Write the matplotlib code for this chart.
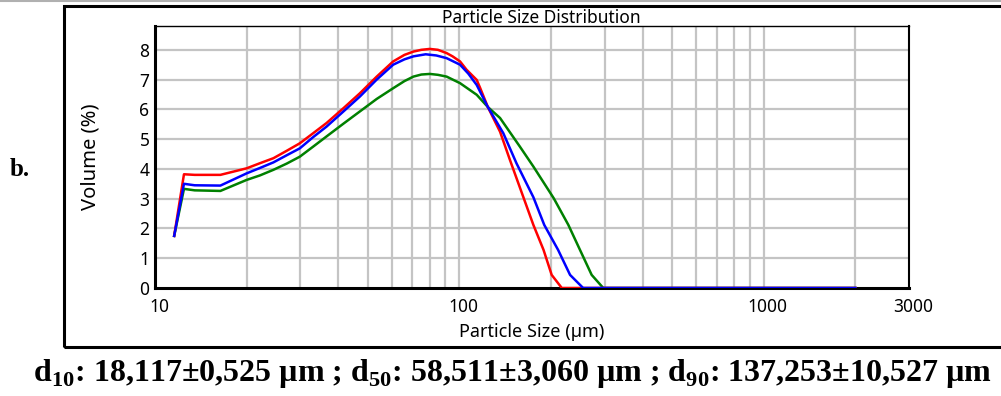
import matplotlib
matplotlib.use("Agg")
from matplotlib import pyplot as plt
from matplotlib.lines import Line2D
from matplotlib.patches import Rectangle
from matplotlib.transforms import ScaledTranslation

# valores (tamano en um, volumen en %)
tam_rojo = [11.56, 12.45, 13.5, 16.4, 20, 22.1, 24.5, 27.1, 29.9, 33.1, 36.6, 41.6,
            47.1, 53.5, 60.6, 66, 70.6, 75, 80, 85, 90.8, 95, 100.5, 105.6, 114, 117,
            124, 136, 146.6, 162, 175, 189, 201, 217, 2000]
vol_rojo = [1.75, 3.82, 3.80, 3.80, 4.02, 4.19, 4.36, 4.61, 4.86, 5.20, 5.54, 6.04,
            6.54, 7.10, 7.61, 7.83, 7.94, 8.00, 8.03, 8.00, 7.89, 7.78, 7.61, 7.33,
            6.99, 6.72, 6.08, 5.25, 4.30, 3.07, 2.12, 1.28, 0.44, 0.0, 0.0]

tam_azul = [11.56, 12.45, 13.5, 16.4, 20, 22.1, 24.5, 27.1, 29.9, 33.1, 36.6, 41.6,
            47.1, 53.5, 60.6, 66, 70.6, 77.5, 84, 90.8, 100.5, 107, 114, 124, 139.4,
            154, 175, 190, 211, 231, 255, 2000]
vol_azul = [1.75, 3.50, 3.45, 3.44, 3.85, 4.03, 4.22, 4.46, 4.69, 5.07, 5.42, 5.93,
            6.43, 7.00, 7.50, 7.68, 7.78, 7.85, 7.81, 7.72, 7.50, 7.20, 6.82, 6.08,
            5.20, 4.19, 3.05, 2.12, 1.28, 0.44, 0.0, 0.0]

tam_verde = [11.56, 12.45, 13.5, 16.4, 20, 22.1, 24.5, 27.1, 29.9, 33.1, 36.6, 41.6,
             47.1, 53.5, 60.6, 66, 70.6, 75, 80, 85, 90.8, 100.5, 114, 124, 136, 158,
             175, 204, 228, 249, 272, 297, 2000]
vol_verde = [1.75, 3.33, 3.28, 3.26, 3.63, 3.78, 3.97, 4.18, 4.41, 4.75, 5.09, 5.52,
             5.93, 6.35, 6.71, 6.95, 7.10, 7.17, 7.19, 7.16, 7.10, 6.88, 6.49, 6.08,
             5.71, 4.75, 4.08, 3.02, 2.12, 1.28, 0.44, 0.0, 0.0]

ticks_x = [10, 100, 1000, 3000]
etiquetas_x = ["10", "100", "1000", "3000"]
rejilla_x = [20, 30, 40, 50, 60, 70, 80, 90, 100, 200, 300, 400, 500, 600, 700,
             800, 900, 1000, 2000]
ticks_y = [0, 1, 2, 3, 4, 5, 6, 7, 8]

texto_pie = (r"d$_{10}$: 18,117±0,525 µm ; d$_{50}$: 58,511±3,060 µm ; "
             r"d$_{90}$: 137,253±10,527 µm")

plt.rcParams["font.family"] = ["Noto Sans", "DejaVu Sans"]
plt.rcParams["mathtext.fontset"] = "custom"
plt.rcParams["mathtext.rm"] = "Liberation Serif:bold"
plt.rcParams["mathtext.bf"] = "Liberation Serif:bold"

fig = plt.figure(figsize=(10.01, 3.96), dpi=100)
ax = fig.add_axes([155 / 1001, 1 - 288 / 396, 754 / 1001, 262 / 396])

gris = "#c4c4c4"
for x in rejilla_x:
    ax.axvline(x, color=gris, lw=1.6, zorder=1)
for y in ticks_y[1:]:
    ax.axhline(y, color=gris, lw=1.6, zorder=1)

ax.plot(tam_verde, vol_verde, color="#008000", lw=1.8, zorder=3)
ax.plot(tam_rojo, vol_rojo, color="#ff0000", lw=1.8, zorder=4)
ax.plot(tam_azul, vol_azul, color="#0000ff", lw=1.8, zorder=5)

ax.set_xscale("log")
ax.set_xlim(10, 3000)
ax.set_ylim(0, 8.8)
ax.set_xticks(ticks_x)
ax.set_xticklabels(etiquetas_x)
ax.xaxis.set_minor_locator(matplotlib.ticker.NullLocator())
ax.set_yticks(ticks_y)
ax.tick_params(length=0, labelsize=12.5, colors="black")
ax.tick_params(axis="y", pad=4)
ax.tick_params(axis="x", pad=7)
# etiquetas del eje x un poco a la derecha, como en el original
desplaza = ScaledTranslation(4 / 100, 0, fig.dpi_scale_trans)
for lab in ax.get_xticklabels():
    lab.set_transform(lab.get_transform() + desplaza)

ax.set_xlabel("Particle Size (µm)", fontsize=13, labelpad=5)
ax.set_ylabel("Volume (%)", fontsize=14.5, labelpad=28)

ax.spines["left"].set_linewidth(2.2)
ax.spines["bottom"].set_linewidth(2.2)
ax.spines["top"].set_linewidth(1.0)
ax.spines["right"].set_linewidth(1.5)
ax.spines["bottom"].set_zorder(2)

fig.text(541 / 1001, 1 - 18 / 396, "Particle Size Distribution", ha="center",
         va="center", fontsize=12.5, fontweight="bold")

# marco exterior y linea gris superior
fig.patches.append(Rectangle((64 / 1001, 1 - 347 / 396), 0.96, 341 / 396,
                             transform=fig.transFigure, fill=False,
                             edgecolor="black", lw=2.2))
fig.lines.append(Line2D([0, 1], [0.998, 0.998], transform=fig.transFigure,
                        color="#b0b0b0", lw=1.5))

fig.text(10 / 1001, 1 - 170 / 396, "b.", ha="left", va="center", fontsize=18,
         fontweight="bold", family="Liberation Serif")
fig.text(512 / 1001, 1 - 373 / 396, texto_pie, ha="center", va="center",
         fontsize=23, fontweight="bold", family="Liberation Serif")

fig.savefig("out.png", dpi=100)
